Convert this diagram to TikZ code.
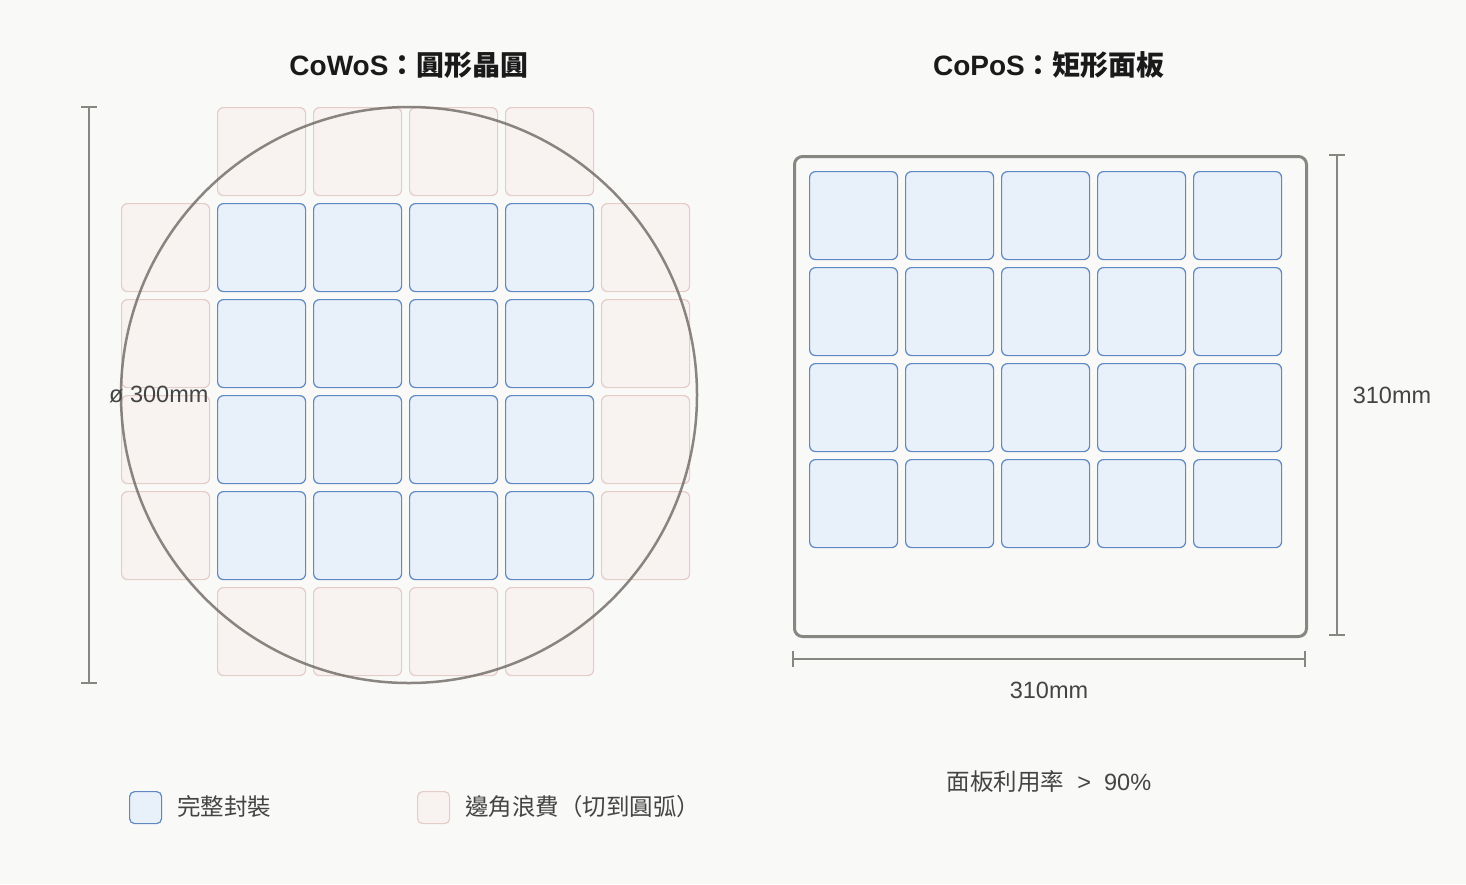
\documentclass[tikz,border=0pt]{standalone}
\usepackage{fontspec}
\setmainfont{Liberation Sans}
\newfontfamily\cjk{Noto Sans CJK TC}
\definecolor{bgc}{HTML}{F9F9F7}
\definecolor{fullF}{HTML}{E8F0FA}
\definecolor{fullS}{HTML}{5F88C2}
\definecolor{wasteF}{HTML}{F8F3F1}
\definecolor{wasteS}{HTML}{E4CCC8}
\definecolor{dimc}{HTML}{878781}
\definecolor{wafc}{HTML}{6F6963}
\definecolor{titc}{HTML}{1A1A1A}
\definecolor{txtc}{HTML}{444444}
\tikzset{
  cell/.style={rounded corners=6pt, minimum size=88pt, inner sep=0pt, anchor=north west},
  full/.style={cell, draw=fullS, fill=fullF, line width=1.2pt},
  waste/.style={cell, draw=wasteS, fill=wasteF, line width=1.2pt},
  legfull/.style={full, minimum size=32pt, rounded corners=5pt},
  legwaste/.style={waste, minimum size=32pt, rounded corners=5pt},
  dimline/.style={draw=dimc, line width=2pt},
  wafer/.style={circle, draw=wafc, draw opacity=0.8, line width=2.5pt, minimum size=576pt, inner sep=0pt},
  panel/.style={draw=dimc, line width=3pt, rounded corners=8pt, minimum width=512pt, minimum height=480pt, inner sep=0pt, anchor=north west},
  title/.style={font=\fontsize{28}{32}\selectfont\bfseries, text=titc},
  lbl/.style={font=\fontsize{23.5}{28}\selectfont, text=txtc},
}
\begin{document}
\begin{tikzpicture}[x=1pt, y=-1pt]
\fill[bgc] (0,0) rectangle (1466,884);
\useasboundingbox (0,0) rectangle (1466,884);

% titles
\node[title] (t1) at (409,65) {CoWoS{\cjk：圓形晶圓}};
\node[title] (t2) at (1049,65) {CoPoS{\cjk：矩形面板}};

% wafer: waste cells
\foreach \i in {0,...,3} {
  \node[waste] (wt\i) at ({217+96*\i},107) {};
  \node[waste] (wb\i) at ({217+96*\i},587) {};
  \node[waste] (wl\i) at (121,{203+96*\i}) {};
  \node[waste] (wr\i) at (601,{203+96*\i}) {};
}
% wafer: full cells
\foreach \i in {0,...,3} {
  \foreach \j in {0,...,3} {
    \node[full] (wf\i\j) at ({217+96*\i},{203+96*\j}) {};
  }
}
\node[wafer] (waf) at (409,395) {};

% left dimension
\coordinate (dA) at (89,107);
\coordinate (dB) at (89,683);
\draw[dimline] (dA) -- (dB);
\draw[dimline] ([xshift=-8pt]dA) -- ([xshift=8pt]dA);
\draw[dimline] ([xshift=-8pt]dB) -- ([xshift=8pt]dB);
\node[lbl, anchor=west, inner sep=0pt] (dlab) at (109,395) {ø 300mm};

% panel
\node[panel] (pan) at (793,155) {};
\foreach \i in {0,...,4} {
  \foreach \j in {0,...,3} {
    \node[full] (pf\i\j) at ({809+96*\i},{171+96*\j}) {};
  }
}

% right dimension
\coordinate (rA) at (1337,155);
\coordinate (rB) at (1337,635);
\draw[dimline] (rA) -- (rB);
\draw[dimline] ([xshift=-8pt]rA) -- ([xshift=8pt]rA);
\draw[dimline] ([xshift=-8pt]rB) -- ([xshift=8pt]rB);
\node[lbl] (rlab) at (1392,395) {310mm};

% bottom dimension
\coordinate (bA) at (793,659);
\coordinate (bB) at (1305,659);
\draw[dimline] (bA) -- (bB);
\draw[dimline] ([yshift=-8pt]bA) -- ([yshift=8pt]bA);
\draw[dimline] ([yshift=-8pt]bB) -- ([yshift=8pt]bB);
\node[lbl] (blab) at (1049,690) {310mm};

\node[lbl] (util) at (1049,782) {{\cjk 面板利用率}\ \ >\ \ 90\%};

% legend
\node[legfull] (lg1) at (129,791) {};
\node[lbl, anchor=west, inner sep=0pt] (lg1t) at (177,807) {\cjk 完整封裝};
\node[legwaste] (lg2) at (417,791) {};
\node[lbl, anchor=west, inner sep=0pt] (lg2t) at (465,807) {\cjk 邊角浪費（切到圓弧）};
\end{tikzpicture}
\end{document}
